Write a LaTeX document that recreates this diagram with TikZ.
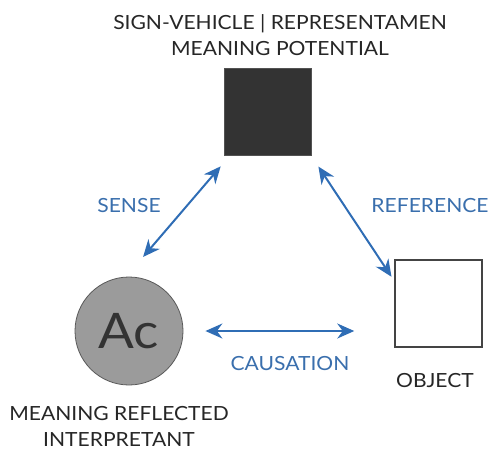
\documentclass[tikz,border=0pt]{standalone}
\usepackage{fontspec}
\setmainfont{Lato}[FakeStretch=1.08]
\usetikzlibrary{arrows.meta}
\definecolor{signblue}{HTML}{2F6DB5}
\definecolor{labelblue}{HTML}{3A6FAD}
\definecolor{darkbox}{HTML}{333333}
\definecolor{edgegray}{HTML}{444444}
\definecolor{ballgray}{HTML}{9B9B9B}
\tikzset{
    sq/.style={rectangle,draw,minimum size=87pt,inner sep=0pt},
    link/.style={signblue,line width=2pt,{Stealth[length=17pt,width=15pt]}-{Stealth[length=17pt,width=15pt]}},
    txt/.style={font=\fontsize{19.5}{26}\selectfont,align=center,inner sep=0pt,text=black!85},
    blu/.style={txt,text=labelblue}
}
\begin{document}
\begin{tikzpicture}[x=1pt,y=-1pt]
        \useasboundingbox (0,0) rectangle (489,451);
        %% the three corners of the triangle
        \node[sq,fill=darkbox,draw=darkbox!85] (S) at (267.5,112) {};
        \node[sq,fill=white,draw=edgegray,line width=1.5pt] (O) at (438.5,303.5) {};
        \node[circle,fill=ballgray,draw=gray!70!black,line width=0.8pt,minimum size=108pt,inner sep=0pt,
              font=\fontsize{49}{49}\selectfont,text=darkbox] (I) at (129,331) {Ac};
        %% captions
        \node[txt] (T) at (280,35) {SIGN-VEHICLE | REPRESENTAMEN\\MEANING POTENTIAL};
        \node[txt] (OL) at (435,381) {OBJECT};
        \node[txt] (IL) at (119,426) {MEANING REFLECTED\\INTERPRETANT};
        %% relations
        \draw[link,shorten <=14pt,shorten >=26pt] ([xshift=6pt]S.south west) -- (I.93);
        \draw[link,shorten <=13pt,shorten >=5pt] (S.south east) -- (O.153);
        \draw[link,shorten <=22pt,shorten >=40pt] (I.east) -- (I.east -| O.west);
        \node[blu] (SE) at (129,206) {SENSE};
        \node[blu] (RE) at (430,206) {REFERENCE};
        \node[blu] (CA) at (290,364) {CAUSATION};
    \end{tikzpicture}
\end{document}
